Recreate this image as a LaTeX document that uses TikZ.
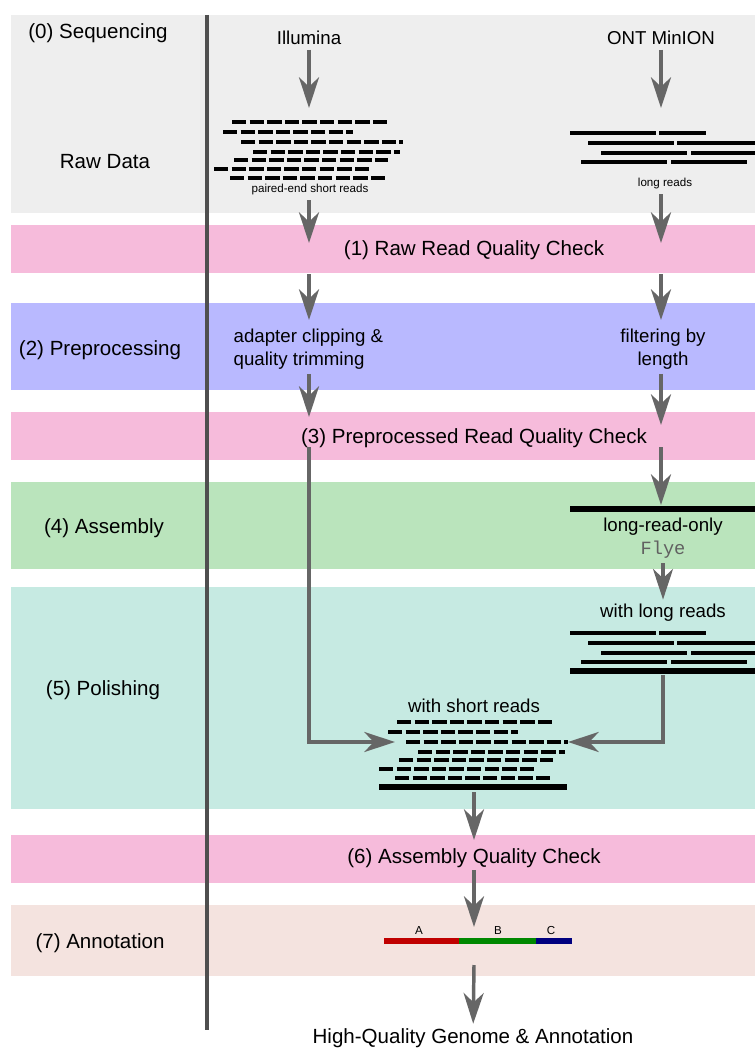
\documentclass[tikz,border=0pt]{standalone}
\usepackage{fontspec}
\setmainfont{Liberation Sans}
\setmonofont{Liberation Mono}
\usetikzlibrary{arrows.meta}
\definecolor{seqband}{HTML}{EEEEEE}
\definecolor{qcband}{HTML}{F6BBDB}
\definecolor{prepband}{HTML}{B9B9FF}
\definecolor{asmband}{HTML}{BAE4BC}
\definecolor{polband}{HTML}{C6EAE2}
\definecolor{annband}{HTML}{F4E3DF}
\definecolor{flowgray}{HTML}{666666}
\definecolor{axisgray}{HTML}{4F4F4F}
\definecolor{geneA}{HTML}{C00000}
\definecolor{geneB}{HTML}{008800}
\definecolor{geneC}{HTML}{00007F}

\begin{document}
\begin{tikzpicture}[x=0.75pt,y=-0.75pt,
 stage/.style={font=\fontsize{15.4}{18.5}\selectfont},
 note/.style={font=\fontsize{14}{17.3}\selectfont,align=center},
 small/.style={font=\fontsize{8.7}{10.5}\selectfont},
 flow/.style={draw=flowgray,line width=2.6pt,-{Stealth[length=23pt,width=15pt,inset=7pt]}},
 shortread/.style={line width=2.3pt,dash pattern=on 10.8pt off 2.4pt},
 longread/.style={line width=2.3pt},
 contig/.style={line width=4.5pt}]
\path[use as bounding box] (0,0) rectangle (755,1052);
% one band per workflow stage
\foreach \c/\t/\b in {seqband/15/213,qcband/225/273,prepband/303/390,qcband/412/460,
  asmband/482/569,polband/587/809,qcband/835/883,annband/905/976}
  \fill[\c] (11,\t) rectangle (755,\b);
\draw[axisgray,line width=2.6pt] (207,15) -- (207,1030);

% short reads (raw and polishing copy)
\foreach \dx/\dy in {0/0,165/600}
  \foreach \y/\a/\b in {122/232/387,132/223/353,142/241/403,152/253/400,
    160/234/388,169/214/369,178/230/385}
    \draw[shortread] (\a+\dx,\y+\dy) -- (\b+\dx,\y+\dy);
% long reads (raw and polishing copy)
\foreach \dy in {0,500}
  \foreach \y/\a/\b/\c/\d in {133/570/656/659/706,143/588/674/677/755,
    153/601/687/691/755,162/581/667/671/747}
    {\draw[longread] (\a,\y+\dy) -- (\b,\y+\dy);
     \draw[longread] (\c,\y+\dy) -- (\d,\y+\dy);}
\draw[contig] (570,509) -- (755,509);
\draw[contig] (570,671) -- (755,671);
\draw[contig] (379,787) -- (567,787);

% annotated genome
\draw[geneA,line width=5.2pt] (384,941) -- (459,941);
\draw[geneB,line width=5.2pt] (459,941) -- (536,941);
\draw[geneC,line width=5.2pt] (536,941) -- (572,941);

\node[stage] (seq) at (98,33) {(0) Sequencing};
\node[stage] (raw) at (105,162) {Raw Data};
\node[stage] (prep) at (100,350) {(2) Preprocessing};
\node[stage] (asm) at (104,528) {(4) Assembly};
\node[stage] (pol) at (103,690) {(5) Polishing};
\node[stage] (ann) at (100,943) {(7) Annotation};
\node[note] (illumina) at (309,38) {Illumina};
\node[note] (ont) at (661,38) {ONT MinION};
\node[small] (srlabel) at (310,190) {paired-end short reads};
\node[small] (lrlabel) at (665,184) {long reads};
\node[stage] (qc1) at (474,250) {(1) Raw Read Quality Check};
\node[note,align=left,anchor=west] (clip) at (229,349)
  {adapter clipping \&\\quality trimming};
\node[note] (filt) at (663,349) {filtering by\\length};
\node[stage] (qc3) at (474,438) {(3) Preprocessed Read Quality Check};
\node[note] (lro) at (663,527) {long-read-only};
\node[note,font=\ttfamily\fontsize{14}{17}\selectfont,text=black!62] (flye) at (663,550) {Flye};
\node[note] (wlr) at (663,613) {with long reads};
\node[note] (wsr) at (474,706) {with short reads};
\node[stage] (qc6) at (474,858) {(6) Assembly Quality Check};
\node[small] (gA) at (419,930) {A};
\node[small] (gB) at (498,930) {B};
\node[small] (gC) at (551,930) {C};
\node[stage] (final) at (473,1038) {High-Quality Genome \& Annotation};

% arrow ends
\coordinate (sr-in) at (309,108);
\coordinate (lr-in) at (661,108);
\coordinate (qc1-l) at (309,243);
\coordinate (qc1-r) at (661,243);
\coordinate (qc1-lo) at (309,274);
\coordinate (qc1-ro) at (661,274);
\coordinate (prep-l) at (309,320);
\coordinate (prep-r) at (661,320);
\coordinate (qc3-l) at (309,417);
\coordinate (qc3-r) at (661,425);
\coordinate (qc3-lo) at (309,447);
\coordinate (qc3-ro) at (661,447);
\coordinate (asm-in) at (661,505);
\coordinate (lr-out) at (663,675);
\coordinate (sr-pol) at (395,742);
\coordinate (lr-pol) at (568,742);
\coordinate (pol-out) at (474,792);
\coordinate (qc6-in) at (474,840);
\coordinate (qc6-out) at (474,870);
\coordinate (ann-in) at (474,927);
\coordinate (ann-out) at (474,965);

\draw[flow] (illumina) -- (sr-in);
\draw[flow] (ont) -- (lr-in);
\draw[flow] (srlabel.south -| qc1-l) -- (qc1-l);
\draw[flow] (lrlabel.south -| qc1-r) -- (qc1-r);
\draw[flow] (qc1-lo) -- (prep-l);
\draw[flow] (qc1-ro) -- (prep-r);
\draw[flow] (clip.south -| qc3-l) -- (qc3-l);
\draw[flow] (filt.south -| qc3-r) -- (qc3-r);
\draw[flow] (qc3-ro) -- (asm-in);
\draw[flow] (flye) -- (wlr.north);
\draw[flow] (qc3-lo) |- (sr-pol);
\draw[flow] (lr-out) |- (lr-pol);
\draw[flow] (pol-out) -- (qc6-in);
\draw[flow] (qc6-out) -- (ann-in);
\draw[flow] (ann-out) -- (final);
\end{tikzpicture}
\end{document}
